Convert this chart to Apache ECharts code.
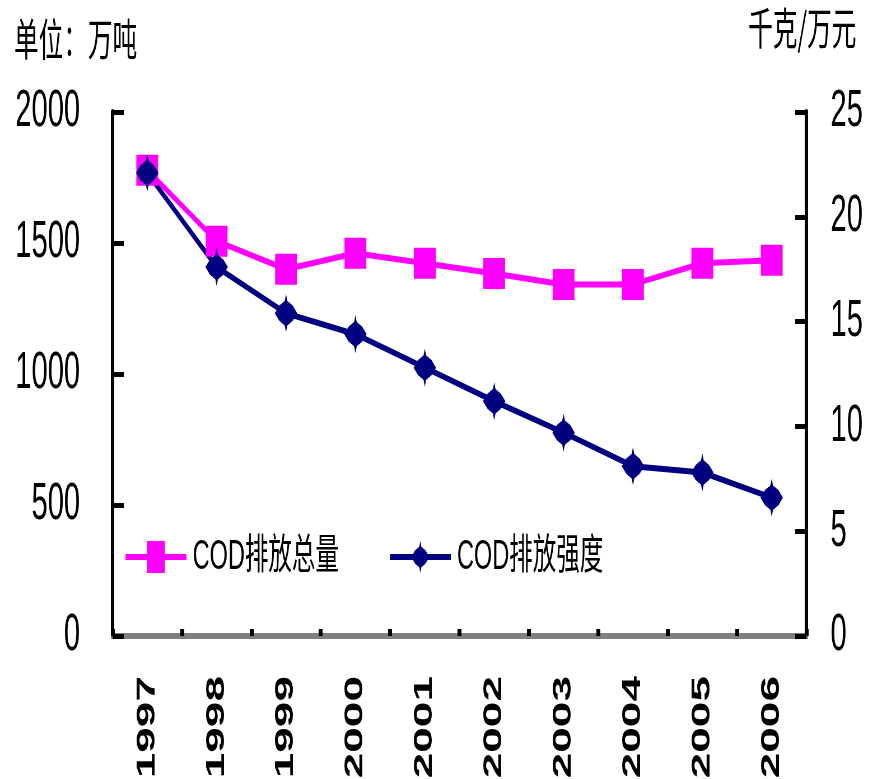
<!DOCTYPE html>
<html>
<head>
<meta charset="utf-8">
<script src="https://cdn.jsdelivr.net/npm/echarts@6/dist/echarts.min.js"></script>
<style>
html,body{margin:0;padding:0;overflow:hidden;background:#fff;width:884px;height:779px;}
#wrap{width:884px;height:779px;overflow:hidden;position:relative;}
#chart{width:1579px;height:779px;transform:scaleX(0.56);transform-origin:0 0;position:absolute;left:0;top:0;}
</style>
</head>
<body>
<div id="wrap"><div id="chart"></div></div>
<script>
// Data
const years = ['1997','1998','1999','2000','2001','2002','2003','2004','2005','2006'];
const codTotal = [1778, 1507, 1400, 1461, 1423, 1384, 1342, 1342, 1423, 1434];       // 万吨 (left axis)
const codIntensity = [22.1, 17.6, 15.4, 14.4, 12.8, 11.2, 9.7, 8.1, 7.8, 6.6];     // 千克/万元 (right axis)
const seriesNames = ['COD排放总量', 'COD排放强度'];
const leftAxisTitle = '单位：万吨';
const rightAxisTitle = '千克/万元';

const LATIN = 'Liberation Sans, Arial, sans-serif';
const CJK = 'Liberation Sans, Noto Sans CJK SC, sans-serif';
const starPath = 'path://M50,0 L56,18 L80,30 L100,50 L80,70 L56,82 L50,100 L44,82 L20,70 L0,50 L20,30 L44,18 Z';

const chart = echarts.init(document.getElementById('chart'), null, {renderer: 'canvas'});
const legendBase = {
  top: 536, padding: 0, itemWidth: 109, itemHeight: 40,
  lineStyle: {width: 6},
  textStyle: {fontSize: 42, color: '#000', fontFamily: CJK, padding: [0, 0, 0, 6]}
};
const plainNum = v => String(v);
const option = {
  animation: false,
  backgroundColor: '#fff',
  grid: {left: 201, right: 139, top: 112, bottom: 143, containLabel: false, outerBoundsMode: 'none'},
  legend: [
    Object.assign({}, legendBase, {data: [seriesNames[0]], left: 221}),
    Object.assign({}, legendBase, {data: [seriesNames[1]], left: 693})
  ],
  graphic: [
    {type: 'text', left: 25, top: 17, style: {text: leftAxisTitle, fontSize: 44, fill: '#000', fontFamily: 'Noto Sans CJK SC'}},
    {type: 'text', left: 1336, top: 6, style: {text: rightAxisTitle, fontSize: 44, fill: '#000', fontFamily: 'Noto Sans CJK SC'}}
  ],
  xAxis: [
    {
      type: 'category', data: years, position: 'bottom',
      axisLine: {lineStyle: {color: '#000', width: 6}},
      axisTick: {show: true, inside: true, length: 7, lineStyle: {color: '#000', width: 7}},
      axisLabel: {rotate: 90, fontSize: 46, fontWeight: 'bold', margin: 40, color: '#000', fontFamily: LATIN, interval: 0},
      splitLine: {show: false}
    },
    {
      type: 'category', data: years, position: 'top',
      axisLine: {lineStyle: {color: '#808080', width: 6}},
      axisTick: {show: false}, axisLabel: {show: false}, splitLine: {show: false}
    }
  ],
  yAxis: [
    {
      type: 'value', min: 0, max: 2000, interval: 500, position: 'left',
      axisLine: {show: true, lineStyle: {color: '#000', width: 6}},
      axisTick: {show: true, inside: true, length: 20, lineStyle: {color: '#000', width: 5}},
      axisLabel: {fontSize: 52, margin: 58, color: '#000', fontFamily: LATIN, formatter: plainNum},
      splitLine: {show: false}
    },
    {
      type: 'value', min: 0, max: 25, interval: 5, position: 'right',
      axisLine: {show: true, lineStyle: {color: '#000', width: 6}},
      axisTick: {show: true, inside: true, length: 20, lineStyle: {color: '#000', width: 5}},
      axisLabel: {fontSize: 52, margin: 43, color: '#000', fontFamily: LATIN, formatter: plainNum},
      splitLine: {show: false}
    }
  ],
  series: [
    {
      name: seriesNames[0], type: 'line', data: codTotal, yAxisIndex: 0,
      symbol: 'rect', symbolSize: [39, 31],
      lineStyle: {color: '#FF00FF', width: 6},
      itemStyle: {color: '#FF00FF'},
      emphasis: {disabled: true}
    },
    {
      name: seriesNames[1], type: 'line', data: codIntensity, yAxisIndex: 1,
      symbol: starPath, symbolSize: [40, 38], symbolKeepAspect: false,
      lineStyle: {color: '#000080', width: 6},
      itemStyle: {color: '#000080'},
      emphasis: {disabled: true}
    }
  ]
};
chart.setOption(option);
</script>
</body>
</html>
